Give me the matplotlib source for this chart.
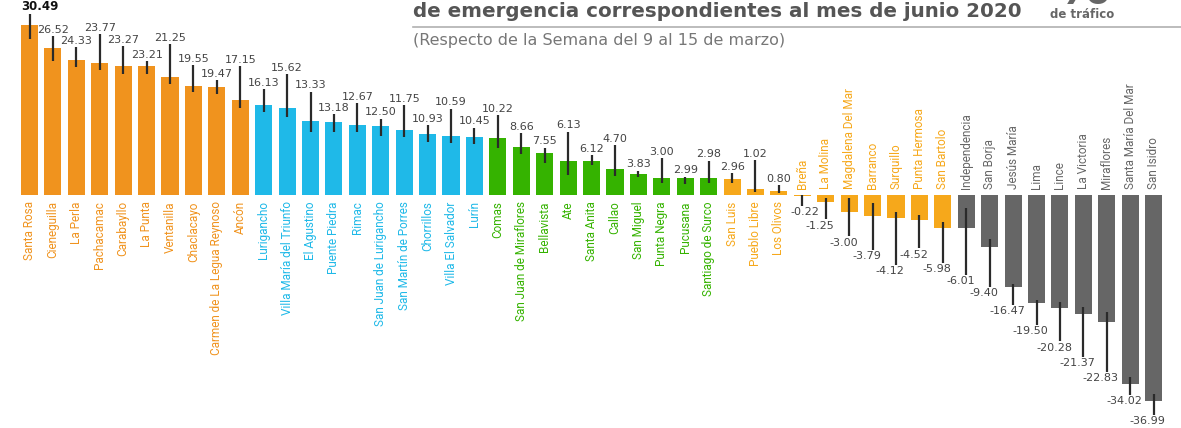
import matplotlib
matplotlib.use('Agg')
import matplotlib.pyplot as plt
import numpy as np

# Districts, ordered as in the chart
districts = ["Santa Rosa", "Cieneguilla", "La Perla", "Pachacamac", "Carabayllo",
             "La Punta", "Ventanilla", "Chaclacayo", "Carmen de La Legua Reynoso", "Ancón",
             "Lurigancho", "Villa María del Triunfo", "El Agustino", "Puente Piedra", "Rimac",
             "San Juan de Lurigancho", "San Martín de Porres", "Chorrillos", "Villa El Salvador", "Lurín",
             "Comas", "San Juan de Miraflores", "Bellavista", "Ate", "Santa Anita",
             "Callao", "San Miguel", "Punta Negra", "Pucusana", "Santiago de Surco",
             "San Luis", "Pueblo Libre", "Los Olivos", "Breña", "La Molina",
             "Magdalena Del Mar", "Barranco", "Surquillo", "Punta Hermosa", "San Bartolo",
             "Independencia", "San Borja", "Jesús María", "Lima", "Lince",
             "La Victoria", "Miraflores", "Santa María Del Mar", "San Isidro"]

# % variation of traffic
values = [30.49, 26.52, 24.33, 23.77, 23.27, 23.21, 21.25, 19.55, 19.47, 17.15,
          16.13, 15.62, 13.33, 13.18, 12.67, 12.50, 11.75, 10.93, 10.59, 10.45,
          10.22, 8.66, 7.55, 6.13, 6.12, 4.70, 3.83, 3.00, 2.99, 2.98,
          2.96, 1.02, 0.80, -0.22, -1.25, -3.00, -3.79, -4.12, -4.52, -5.98,
          -6.01, -9.40, -16.47, -19.50, -20.28, -21.37, -22.83, -34.02, -36.99]

# vertical range lines drawn on each bar
line_top = [32.5, 28.6, 26.6, 28.9, 26.8, 24.1, 27.1, 23.4, 20.7, 23.2,
            19.0, 21.7, 18.6, 14.5, 16.5, 13.7, 16.2, 12.6, 15.5, 12.1,
            14.4, 11.1, 8.5, 11.4, 7.2, 9.0, 4.4, 6.6, 3.3, 6.2,
            3.9, 6.3, 1.8, 0.0, -0.5, -0.5, -1.5, -3.0, -3.6, -4.8,
            -2.4, -8.0, -16.0, -18.8, -19.2, -20.1, -21.0, -32.8, -35.7]
line_bottom = [28.0, 24.1, 23.1, 22.4, 21.7, 21.7, 20.0, 18.6, 18.2, 15.6,
               14.9, 14.1, 11.4, 11.4, 11.4, 10.7, 10.5, 9.6, 9.4, 9.1,
               8.5, 7.3, 5.8, 3.6, 5.4, 3.4, 3.2, 2.1, 2.0, 2.2,
               2.2, 0.6, 0.3, -1.9, -4.4, -7.4, -9.9, -12.6, -9.6, -12.2,
               -14.4, -16.5, -19.8, -23.3, -26.3, -29.1, -31.8, -35.9, -39.5]

group_sizes = [10, 10, 10, 10, 9]
group_colors = ['#F0931E', '#1FB9E8', '#35B300', '#F6A81B', '#666666']

colors = []
for n, c in zip(group_sizes, group_colors):
    colors += [c] * n

x = np.arange(len(districts))

fig = plt.figure(figsize=(11.81, 4.28), dpi=100)
ax = fig.add_axes([0, 0, 1, 1])
ax.set_xlim(-1.26, 49.17)
ax.set_ylim(-41.9, 35.07)
ax.axis('off')

ax.bar(x, values, width=0.73, color=colors, zorder=2)
ax.vlines(x, line_bottom, line_top, color='#2a2a2a', lw=1.6, zorder=3)

for i, (name, v) in enumerate(zip(districts, values)):
    if v >= 0:
        ax.annotate(name, (i, 0), xytext=(0, -4.5), textcoords='offset points',
                    rotation=90, ha='center', va='top', color=colors[i],
                    fontsize=8.5, family='Roboto')
        if i == 0:
            ax.annotate(f'{v:.2f}', (i - 0.37, line_top[i]), xytext=(0, 1),
                        textcoords='offset points', ha='left', va='bottom',
                        fontsize=8.5, fontweight='bold', color='#111111')
        else:
            ax.annotate(f'{v:.2f}', (i, line_top[i]), xytext=(0, 1),
                        textcoords='offset points', ha='center', va='bottom',
                        fontsize=8, color='#444444')
    else:
        ax.annotate(name, (i, 0), xytext=(0, 4.5), textcoords='offset points',
                    rotation=90, ha='center', va='bottom', color=colors[i],
                    fontsize=8.5, family='Roboto')
        shift = 0.1 if i == 33 else -0.25
        ax.annotate(f'{v:.2f}', (i + shift, line_bottom[i]), xytext=(0, -1),
                    textcoords='offset points', ha='center', va='top',
                    fontsize=8, color='#444444')

# header
fig.text(413 / 1181, 1 - 17 / 428, 'de emergencia correspondientes al mes de junio 2020',
         fontsize=14.3, fontweight='bold', color='#555555', va='baseline')
fig.add_artist(plt.Line2D([413 / 1181, 1], [1 - 27 / 428, 1 - 27 / 428],
                          color='#b0b0b0', lw=1.2))
fig.text(413 / 1181, 1 - 40 / 428, '(Respecto de la Semana del 9 al 15 de marzo)',
         fontsize=11.5, color='#777777', va='center')
fig.text(1082 / 1181, 1 - 2 / 428, '%', fontsize=40, fontweight='bold',
         color='#666666', ha='center', va='baseline')
fig.text(1082 / 1181, 1 - 15 / 428, 'de tráfico', fontsize=8.5, fontweight='bold',
         color='#666666', ha='center', va='center')

fig.savefig('out.png', dpi=100, facecolor='white')
